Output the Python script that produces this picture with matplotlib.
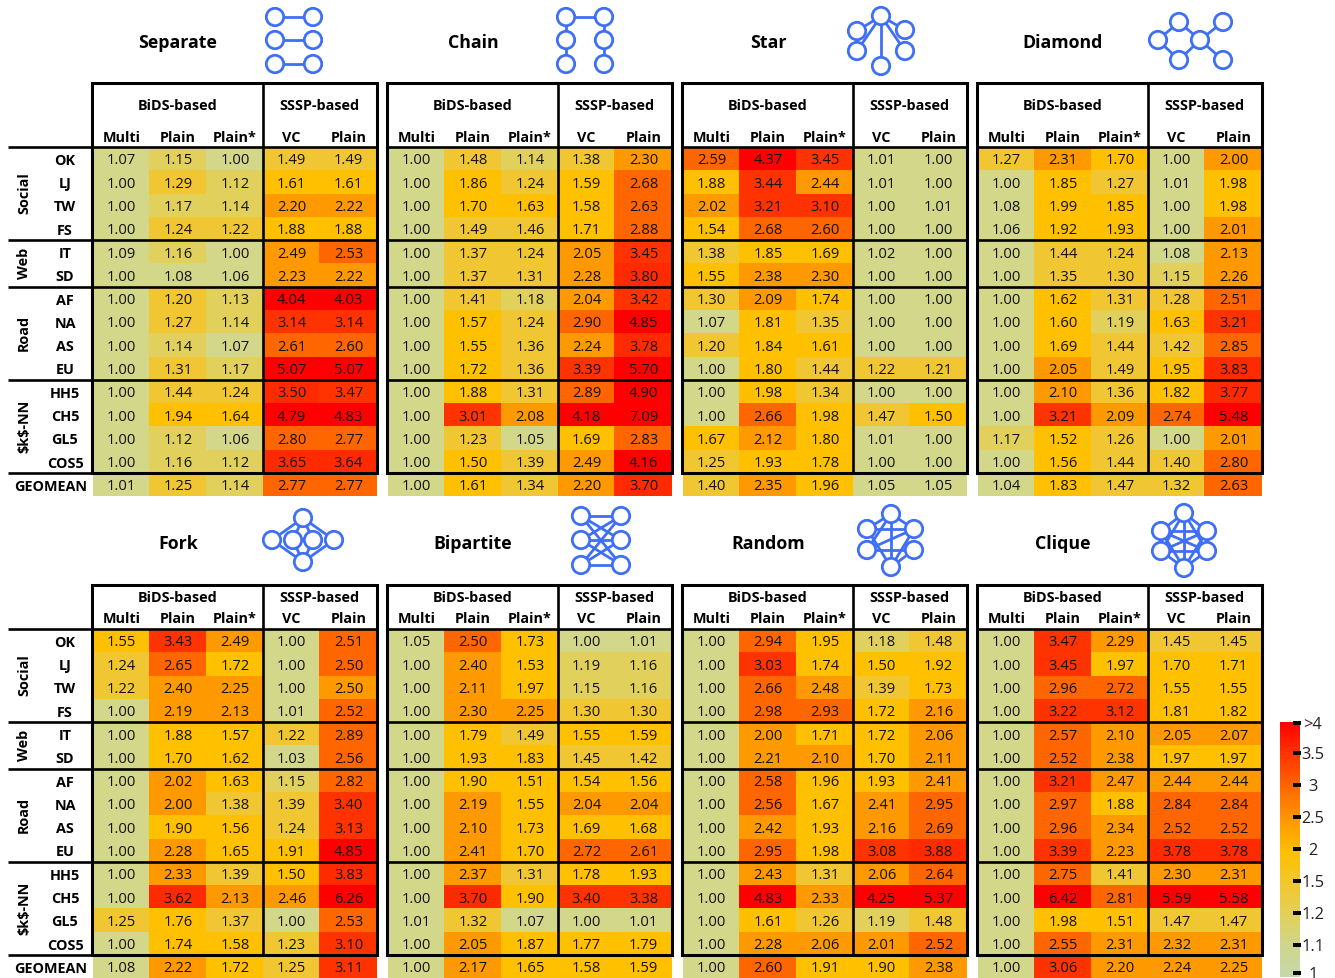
import numpy as np
import matplotlib
matplotlib.use('Agg')
import matplotlib.pyplot as plt
from matplotlib.colors import ListedColormap, BoundaryNorm, LinearSegmentedColormap
from matplotlib.patches import Rectangle, Circle

plt.rcParams['font.family'] = ['Open Sans', 'DejaVu Sans']

datasets = ['OK', 'LJ', 'TW', 'FS', 'IT', 'SD', 'AF', 'NA', 'AS', 'EU', 'HH5', 'CH5', 'GL5', 'COS5', 'GEOMEAN']
methods = ['Multi', 'Plain', 'Plain*', 'VC', 'Plain']

separate = [[1.07, 1.15, 1.00, 1.49, 1.49], [1.00, 1.29, 1.12, 1.61, 1.61], [1.00, 1.17, 1.14, 2.20, 2.22],
            [1.00, 1.24, 1.22, 1.88, 1.88], [1.09, 1.16, 1.00, 2.49, 2.53], [1.00, 1.08, 1.06, 2.23, 2.22],
            [1.00, 1.20, 1.13, 4.04, 4.03], [1.00, 1.27, 1.14, 3.14, 3.14], [1.00, 1.14, 1.07, 2.61, 2.60],
            [1.00, 1.31, 1.17, 5.07, 5.07], [1.00, 1.44, 1.24, 3.50, 3.47], [1.00, 1.94, 1.64, 4.79, 4.83],
            [1.00, 1.12, 1.06, 2.80, 2.77], [1.00, 1.16, 1.12, 3.65, 3.64], [1.01, 1.25, 1.14, 2.77, 2.77]]
chain = [[1.00, 1.48, 1.14, 1.38, 2.30], [1.00, 1.86, 1.24, 1.59, 2.68], [1.00, 1.70, 1.63, 1.58, 2.63],
         [1.00, 1.49, 1.46, 1.71, 2.88], [1.00, 1.37, 1.24, 2.05, 3.45], [1.00, 1.37, 1.31, 2.28, 3.80],
         [1.00, 1.41, 1.18, 2.04, 3.42], [1.00, 1.57, 1.24, 2.90, 4.85], [1.00, 1.55, 1.36, 2.24, 3.78],
         [1.00, 1.72, 1.36, 3.39, 5.70], [1.00, 1.88, 1.31, 2.89, 4.90], [1.00, 3.01, 2.08, 4.18, 7.09],
         [1.00, 1.23, 1.05, 1.69, 2.83], [1.00, 1.50, 1.39, 2.49, 4.16], [1.00, 1.61, 1.34, 2.20, 3.70]]
star = [[2.59, 4.37, 3.45, 1.01, 1.00], [1.88, 3.44, 2.44, 1.01, 1.00], [2.02, 3.21, 3.10, 1.00, 1.01],
        [1.54, 2.68, 2.60, 1.00, 1.00], [1.38, 1.85, 1.69, 1.02, 1.00], [1.55, 2.38, 2.30, 1.00, 1.00],
        [1.30, 2.09, 1.74, 1.00, 1.00], [1.07, 1.81, 1.35, 1.00, 1.00], [1.20, 1.84, 1.61, 1.00, 1.00],
        [1.00, 1.80, 1.44, 1.22, 1.21], [1.00, 1.98, 1.34, 1.00, 1.00], [1.00, 2.66, 1.98, 1.47, 1.50],
        [1.67, 2.12, 1.80, 1.01, 1.00], [1.25, 1.93, 1.78, 1.00, 1.00], [1.40, 2.35, 1.96, 1.05, 1.05]]
diamond = [[1.27, 2.31, 1.70, 1.00, 2.00], [1.00, 1.85, 1.27, 1.01, 1.98], [1.08, 1.99, 1.85, 1.00, 1.98],
           [1.06, 1.92, 1.93, 1.00, 2.01], [1.00, 1.44, 1.24, 1.08, 2.13], [1.00, 1.35, 1.30, 1.15, 2.26],
           [1.00, 1.62, 1.31, 1.28, 2.51], [1.00, 1.60, 1.19, 1.63, 3.21], [1.00, 1.69, 1.44, 1.42, 2.85],
           [1.00, 2.05, 1.49, 1.95, 3.83], [1.00, 2.10, 1.36, 1.82, 3.77], [1.00, 3.21, 2.09, 2.74, 5.48],
           [1.17, 1.52, 1.26, 1.00, 2.01], [1.00, 1.56, 1.44, 1.40, 2.80], [1.04, 1.83, 1.47, 1.32, 2.63]]
fork = [[1.55, 3.43, 2.49, 1.00, 2.51], [1.24, 2.65, 1.72, 1.00, 2.50], [1.22, 2.40, 2.25, 1.00, 2.496],
        [1.00, 2.19, 2.13, 1.01, 2.52], [1.00, 1.88, 1.57, 1.22, 2.89], [1.00, 1.70, 1.62, 1.03, 2.56],
        [1.00, 2.02, 1.63, 1.15, 2.82], [1.00, 2.00, 1.38, 1.39, 3.40], [1.00, 1.90, 1.56, 1.24, 3.13],
        [1.00, 2.28, 1.65, 1.91, 4.85], [1.00, 2.33, 1.39, 1.50, 3.83], [1.00, 3.62, 2.13, 2.46, 6.26],
        [1.25, 1.76, 1.37, 1.00, 2.53], [1.00, 1.74, 1.58, 1.23, 3.10], [1.08, 2.22, 1.72, 1.25, 3.11]]
bipartite = [[1.05, 2.50, 1.73, 1.00, 1.01], [1.00, 2.40, 1.53, 1.19, 1.16], [1.00, 2.11, 1.97, 1.15, 1.16],
             [1.00, 2.30, 2.25, 1.30, 1.30], [1.00, 1.79, 1.49, 1.55, 1.59], [1.00, 1.93, 1.83, 1.45, 1.42],
             [1.00, 1.90, 1.51, 1.54, 1.56], [1.00, 2.19, 1.55, 2.04, 2.04], [1.00, 2.10, 1.73, 1.69, 1.68],
             [1.00, 2.41, 1.70, 2.72, 2.61], [1.00, 2.37, 1.31, 1.78, 1.93], [1.00, 3.70, 1.90, 3.40, 3.38],
             [1.01, 1.32, 1.07, 1.00, 1.01], [1.00, 2.05, 1.87, 1.77, 1.79], [1.00, 2.17, 1.65, 1.58, 1.59]]
random_g = [[1.00, 2.94, 1.95, 1.18, 1.48], [1.00, 3.03, 1.74, 1.50, 1.92], [1.00, 2.66, 2.48, 1.39, 1.73],
            [1.00, 2.98, 2.93, 1.72, 2.16], [1.00, 2.00, 1.71, 1.72, 2.06], [1.00, 2.21, 2.10, 1.70, 2.11],
            [1.00, 2.58, 1.96, 1.93, 2.41], [1.00, 2.56, 1.67, 2.41, 2.95], [1.00, 2.42, 1.93, 2.16, 2.69],
            [1.00, 2.95, 1.98, 3.08, 3.88], [1.00, 2.43, 1.31, 2.06, 2.64], [1.00, 4.83, 2.33, 4.25, 5.37],
            [1.00, 1.61, 1.26, 1.19, 1.48], [1.00, 2.28, 2.06, 2.01, 2.52], [1.00, 2.60, 1.91, 1.90, 2.38]]
clique = [[1.00, 3.47, 2.29, 1.45, 1.45], [1.00, 3.45, 1.97, 1.70, 1.71], [1.00, 2.96, 2.72, 1.55, 1.55],
          [1.00, 3.22, 3.12, 1.81, 1.82], [1.00, 2.57, 2.10, 2.05, 2.07], [1.00, 2.52, 2.38, 1.97, 1.97],
          [1.00, 3.21, 2.47, 2.44, 2.44], [1.00, 2.97, 1.88, 2.84, 2.84], [1.00, 2.96, 2.34, 2.52, 2.52],
          [1.00, 3.39, 2.23, 3.78, 3.78], [1.00, 2.75, 1.41, 2.30, 2.31], [1.00, 6.42, 2.81, 5.59, 5.58],
          [1.00, 1.98, 1.51, 1.47, 1.47], [1.00, 2.55, 2.31, 2.32, 2.31], [1.00, 3.06, 2.20, 2.24, 2.25]]

colorbar_labels = ['>4', '3.5', '3', '2.5', '2', '1.5', '1.2', '1.1', '1']

# colour bands of the cells
bounds = [0, 1.1, 1.2, 1.5, 2, 2.5, 3, 3.5, 4, 100]
band_colors = ['#D2D78A', '#E1D05B', '#F0C632', '#FFC000', '#FF9900', '#FF6600', '#FF3300', '#FF2A00', '#FF0000']
cmap = ListedColormap(band_colors)
norm = BoundaryNorm(bounds, cmap.N)

blue = '#3F6FF5'

# icon layouts, in pixels
def pairs(n):
    return [(i, j) for i in range(n) for j in range(i + 1, n)]

icons = {
    'Separate': ([(275, 18), (313, 18), (275, 41), (313, 41), (275, 65), (313, 65)], [(0, 1), (2, 3), (4, 5)]),
    'Chain': ([(566, 18), (604, 18), (566, 41), (604, 41), (566, 65), (604, 65)],
              [(0, 1), (0, 2), (1, 3), (2, 4), (3, 5)]),
    'Star': ([(881, 17), (857, 32), (857, 52), (905, 31), (905, 52), (881, 67)],
             [(0, 1), (0, 2), (0, 3), (0, 4), (0, 5)]),
    'Diamond': ([(1158, 41), (1179, 23), (1179, 61), (1200, 41), (1223, 23), (1223, 61)],
                [(0, 1), (0, 2), (1, 3), (2, 3), (3, 4), (3, 5)]),
    'Fork': ([(272, 541), (293, 541), (313, 541), (334, 541), (303, 519), (303, 563)],
             [(4, 0), (4, 1), (4, 2), (4, 3), (5, 0), (5, 1), (5, 2), (5, 3)]),
    'Bipartite': ([(581, 517), (581, 541), (581, 566), (621, 517), (621, 541), (621, 566)],
                  [(i, j) for i in range(3) for j in range(3, 6)]),
    'Random': ([(891, 515), (867, 530), (914, 530), (867, 551), (914, 551), (891, 568)],
               [(0, 1), (0, 2), (0, 3), (0, 5), (1, 2), (1, 5), (2, 3), (2, 5), (3, 4), (4, 5)]),
    'Clique': ([(1184, 514), (1161, 532), (1207, 532), (1161, 552), (1207, 552), (1184, 569)], pairs(6)),
}

# panel name, values, x offset, title y, box top, group header y, method header y, header bottom
panels = [
    ('Separate', separate, 0, 41, 84, 104, 136, 148),
    ('Chain', chain, 295, 41, 84, 104, 136, 148),
    ('Star', star, 590, 41, 84, 104, 136, 148),
    ('Diamond', diamond, 885, 41, 84, 104, 136, 148),
    ('Fork', fork, 0, 542, 586, 597, 618, 630),
    ('Bipartite', bipartite, 295, 542, 586, 597, 618, 630),
    ('Random', random_g, 590, 542, 586, 597, 618, 630),
    ('Clique', clique, 885, 542, 586, 597, 618, 630),
]

fig = plt.figure(figsize=(13.35, 9.79), dpi=100)
ax = fig.add_axes([0, 0, 1, 1])

col_edges = np.array([93, 149, 206, 263, 319, 377])
row_h = 23.29
lw = 1.9
fs = 10.6
fs_bold = 10.4
col_centers = (col_edges[:-1] + col_edges[1:]) / 2 + 0.5


def line(x, y):
    ax.plot(x, y, color='black', lw=lw, solid_capstyle='butt', zorder=5)


for name, values, dx, title_y, top, bids_y, meth_y, y0 in panels:
    vals = np.array(values)
    rows = y0 + row_h * np.arange(16)
    ax.pcolormesh(col_edges + dx, rows, vals, cmap=cmap, norm=norm, zorder=1, linewidth=0)
    for r in range(15):
        for c in range(5):
            ax.text(col_centers[c] + dx, rows[r] + row_h / 2 + 1.2, f'{vals[r, c]:.2f}', ha='center', va='center',
                    fontsize=fs, color='#111111', zorder=4)
    for c, m in enumerate(methods):
        ax.text(col_centers[c] + dx, meth_y + 1.5, m, ha='center', va='center', fontsize=fs_bold, fontweight='bold')
    ax.text(177.5 + dx, bids_y + 1.5, 'BiDS-based', ha='center', va='center', fontsize=fs_bold, fontweight='bold')
    ax.text(319 + dx, bids_y + 1.5, 'SSSP-based', ha='center', va='center', fontsize=fs_bold, fontweight='bold')
    ax.text(178 + dx, title_y + 2, name, ha='center', va='center', fontsize=12.8, fontweight='bold')

    bottom = rows[14]
    ax.add_patch(Rectangle((92 + dx, top), 285, bottom - top, fill=False, ec='black', lw=lw * 1.15, zorder=6))
    line([263 + dx, 263 + dx], [top, bottom])
    for k in [0, 4, 6, 10]:
        x_left = 8 if dx == 0 else 92 + dx
        line([x_left, 377 + dx], [rows[k], rows[k]])
    if dx == 0:
        line([8, 92], [bottom, bottom])
        for r in range(15):
            x_lab = 51 if r == 14 else 65
            ax.text(x_lab, rows[r] + row_h / 2 + 1.2, datasets[r], ha='center', va='center', fontsize=fs_bold,
                    fontweight='bold')
        for label, a, b in [('Social', 0, 4), ('Web', 4, 6), ('Road', 6, 10), (r'\$k\$-NN', 10, 14)]:
            ax.text(24, (rows[a] + rows[b]) / 2 - 1, label, rotation=90, ha='center', va='center', fontsize=fs_bold,
                    fontweight='bold')

    nodes, edges = icons[name]
    for i, j in edges:
        ax.plot([nodes[i][0], nodes[j][0]], [nodes[i][1], nodes[j][1]], color=blue, lw=2.0, zorder=2)
    for x, y in nodes:
        ax.add_patch(Circle((x, y), 8.7, fc='white', ec=blue, lw=2.0, zorder=3))

# colour scale on the right
bar_cmap = LinearSegmentedColormap.from_list('bar', [(0, '#C4D9AA'), (0.12, '#D0D68C'), (0.24, '#E2D05A'),
                                                     (0.36, '#F2C82F'), (0.49, '#FFC000'), (0.62, '#FF9600'),
                                                     (0.75, '#FF6600'), (0.88, '#FF3300'), (1, '#FF0000')])
ax.imshow(np.linspace(1, 0, 256).reshape(-1, 1), cmap=bar_cmap, extent=(1280, 1300, 978, 723), aspect='auto', zorder=1)
tick_y = [724, 754, 786, 818, 850, 882, 914, 946, 974]
for y, label in zip(tick_y, colorbar_labels):
    ax.add_patch(Rectangle((1293, y - 2), 8, 4, fc='black', ec='none', zorder=4))
    ax.text(1313, y + 1.5, label, ha='center', va='center', fontsize=11.8, color='#222222')

ax.set_xlim(0, 1335)
ax.set_ylim(979, 0)
ax.axis('off')

fig.savefig('out.png', dpi=100)
